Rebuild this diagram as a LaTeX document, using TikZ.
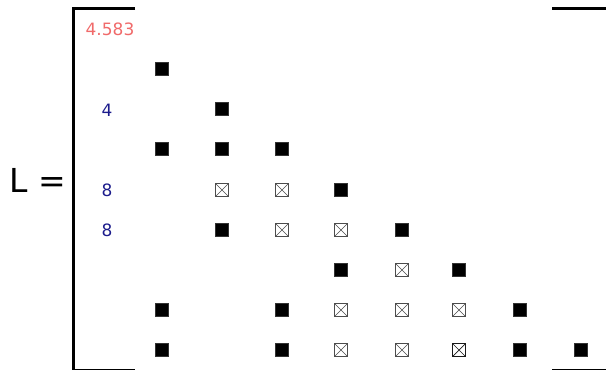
\documentclass[tikz,border=0pt]{standalone}
\usepackage{fontspec}
\setmainfont{DejaVu Sans}
\definecolor{numred}{HTML}{F06A6A}
\definecolor{numblue}{HTML}{1C1C8C}
\begin{document}
\begin{tikzpicture}[x=1pt,y=-1pt,
  filled/.style={fill=black,draw=black!80,line width=0.5pt,minimum size=13pt,inner sep=0pt},
  crossed/.style={draw=black!70,line width=0.7pt,minimum size=12.5pt,inner sep=0pt,
    path picture={\draw[black!70,line width=0.6pt]
      (path picture bounding box.south west)--(path picture bounding box.north east)
      (path picture bounding box.north west)--(path picture bounding box.south east);}},
  darkcrossed/.style={crossed,draw=black!90,path picture={\draw[black!90,line width=0.7pt]
      (path picture bounding box.south west)--(path picture bounding box.north east)
      (path picture bounding box.north west)--(path picture bounding box.south east);}},
  bracket/.style={line width=3pt},
  num/.style={font=\fontsize{17}{19}\selectfont,inner sep=0pt}]
\useasboundingbox (0,0) rectangle (606,370);
% brackets
\draw[bracket] (135,8)--(73.5,8)--(73.5,370.5)--(135,370.5);
\draw[bracket] (552,8)--(608,8)--(608,370.5)--(552,370.5);
% left-hand side
\node[font=\fontsize{33}{36}\selectfont,inner sep=0pt] (lhs) at (38,180) {L =};
% numbers
\node[num,text=numred] (n0) at (110,29) {4.583};
\node[num,text=numblue] (n2) at (107,110) {4};
\node[num,text=numblue] (n4) at (107,190) {8};
\node[num,text=numblue] (n5) at (107,230) {8};
% row 1
\node[filled] (r1c1) at (162,69) {};
% row 2
\node[filled] (r2c2) at (222,109) {};
% row 3
\node[filled] (r3c1) at (162,149) {};
\node[filled] (r3c2) at (222,149) {};
\node[filled] (r3c3) at (282,149) {};
% row 4
\node[crossed] (r4c2) at (222,190) {};
\node[crossed] (r4c3) at (282,190) {};
\node[filled] (r4c4) at (341,190) {};
% row 5
\node[filled] (r5c2) at (222,230) {};
\node[crossed] (r5c3) at (282,230) {};
\node[crossed] (r5c4) at (341,230) {};
\node[filled] (r5c5) at (402,230) {};
% row 6
\node[filled] (r6c4) at (341,270) {};
\node[crossed] (r6c5) at (402,270) {};
\node[filled] (r6c6) at (459,270) {};
% row 7
\node[filled] (r7c1) at (162,310) {};
\node[filled] (r7c3) at (282,310) {};
\node[crossed] (r7c4) at (341,310) {};
\node[crossed] (r7c5) at (402,310) {};
\node[crossed] (r7c6) at (459,310) {};
\node[filled] (r7c7) at (520,310) {};
% row 8
\node[filled] (r8c1) at (162,350) {};
\node[filled] (r8c3) at (282,350) {};
\node[crossed] (r8c4) at (341,350) {};
\node[crossed] (r8c5) at (402,350) {};
\node[darkcrossed] (r8c6) at (459,350) {};
\node[filled] (r8c7) at (520,350) {};
\node[filled] (r8c8) at (581,350) {};
\end{tikzpicture}
\end{document}
